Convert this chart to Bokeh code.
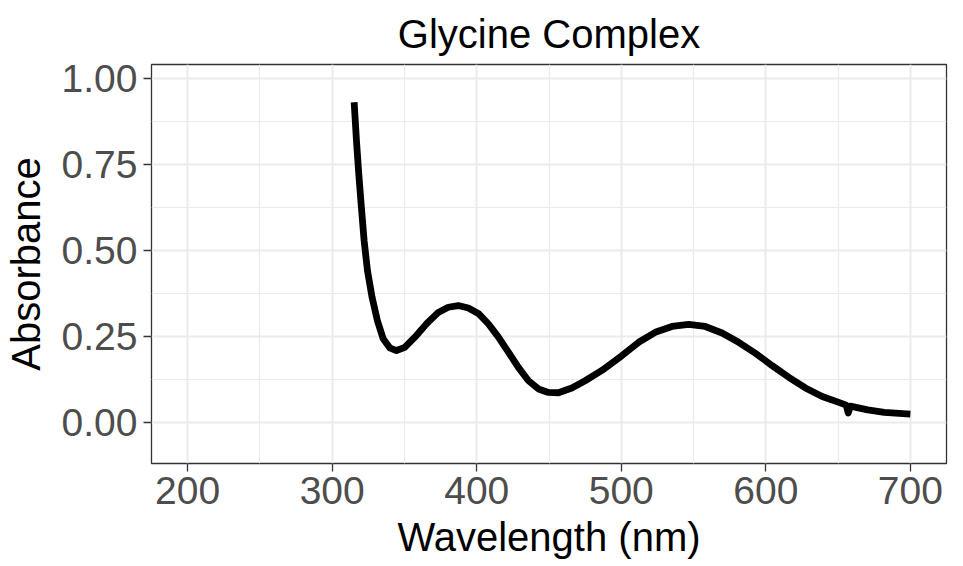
from bokeh.plotting import figure
from bokeh.models import FixedTicker, NumeralTickFormatter, Range1d
from bokeh.embed import file_html
from bokeh.resources import INLINE

# UV-Vis absorbance spectrum of the glycine complex
wavelength = [315.2, 316.8, 318.4, 320.2, 322.1, 324.4, 327.6, 331.3, 335.3, 339.8,
              344.5, 350.2, 357.2, 365.3, 373.4, 380.3, 387.2, 394.2, 401.1, 408.0,
              415.0, 421.9, 428.8, 435.8, 442.7, 449.6, 456.5, 465.8, 475.0, 486.6,
              500.4, 512.0, 523.5, 535.1, 546.6, 558.1, 569.7, 581.2, 592.8, 604.4,
              615.9, 627.4, 639.0, 650.5, 655.6, 657.0, 658.4, 670.5, 682.0, 700.0]
absorbance = [0.932, 0.820, 0.723, 0.626, 0.529, 0.442, 0.364, 0.296, 0.243, 0.217,
              0.209, 0.218, 0.248, 0.287, 0.320, 0.335, 0.340, 0.333, 0.317, 0.287,
              0.248, 0.204, 0.160, 0.121, 0.097, 0.087, 0.086, 0.100, 0.121, 0.151,
              0.194, 0.233, 0.262, 0.279, 0.285, 0.279, 0.260, 0.233, 0.201, 0.165,
              0.131, 0.100, 0.075, 0.058, 0.050, 0.027, 0.047, 0.036, 0.029, 0.024]

x_ticks = [200, 300, 400, 500, 600, 700]
x_minor = [250, 350, 450, 550, 650]
y_ticks = [0.0, 0.25, 0.5, 0.75, 1.0]
y_minor = [0.125, 0.375, 0.625, 0.875]

FONT = "Liberation Sans"

p = figure(width=963, height=566, output_backend="svg", toolbar_location=None,
           x_range=Range1d(175, 725), y_range=Range1d(-0.120, 1.042),
           min_border_left=151, min_border_right=17, min_border_top=64,
           min_border_bottom=103, title="Glycine Complex",
           x_axis_label="Wavelength (nm)", y_axis_label="Absorbance")

p.background_fill_color = "white"
p.border_fill_color = "white"
p.outline_line_color = "#333333"
p.outline_line_width = 1.3

p.title.text_font = FONT
p.title.text_font_size = "40px"
p.title.text_font_style = "normal"
p.title.text_color = "black"
p.title.align = "center"
p.title.standoff = 17

for ax in (p.xaxis[0], p.yaxis[0]):
    ax.axis_line_color = None
    ax.major_tick_line_color = "#333333"
    ax.major_tick_line_width = 1.3
    ax.major_tick_out = 8
    ax.major_tick_in = 0
    ax.minor_tick_line_color = None
    ax.major_label_text_font = FONT
    ax.major_label_text_font_size = "39px"
    ax.major_label_text_color = "#4D4D4D"
    ax.axis_label_text_font = FONT
    ax.axis_label_text_font_size = "40px"
    ax.axis_label_text_font_style = "normal"
    ax.axis_label_text_color = "black"

p.xaxis[0].ticker = FixedTicker(ticks=x_ticks, minor_ticks=x_minor)
p.yaxis[0].ticker = FixedTicker(ticks=y_ticks, minor_ticks=y_minor)
p.yaxis[0].formatter = NumeralTickFormatter(format="0.00")
p.yaxis[0].major_label_standoff = 6
p.yaxis[0].axis_label_standoff = 11
p.xaxis[0].major_label_standoff = 5
p.xaxis[0].axis_label_standoff = 8

for g in (p.xgrid[0], p.ygrid[0]):
    g.grid_line_color = "#EBEBEB"
    g.grid_line_width = 2
    g.minor_grid_line_color = "#EBEBEB"
    g.minor_grid_line_width = 1.2

p.line(wavelength, absorbance, line_color="black", line_width=6.8,
       line_join="round")

open("out.html", "w").write(file_html(p, INLINE))
